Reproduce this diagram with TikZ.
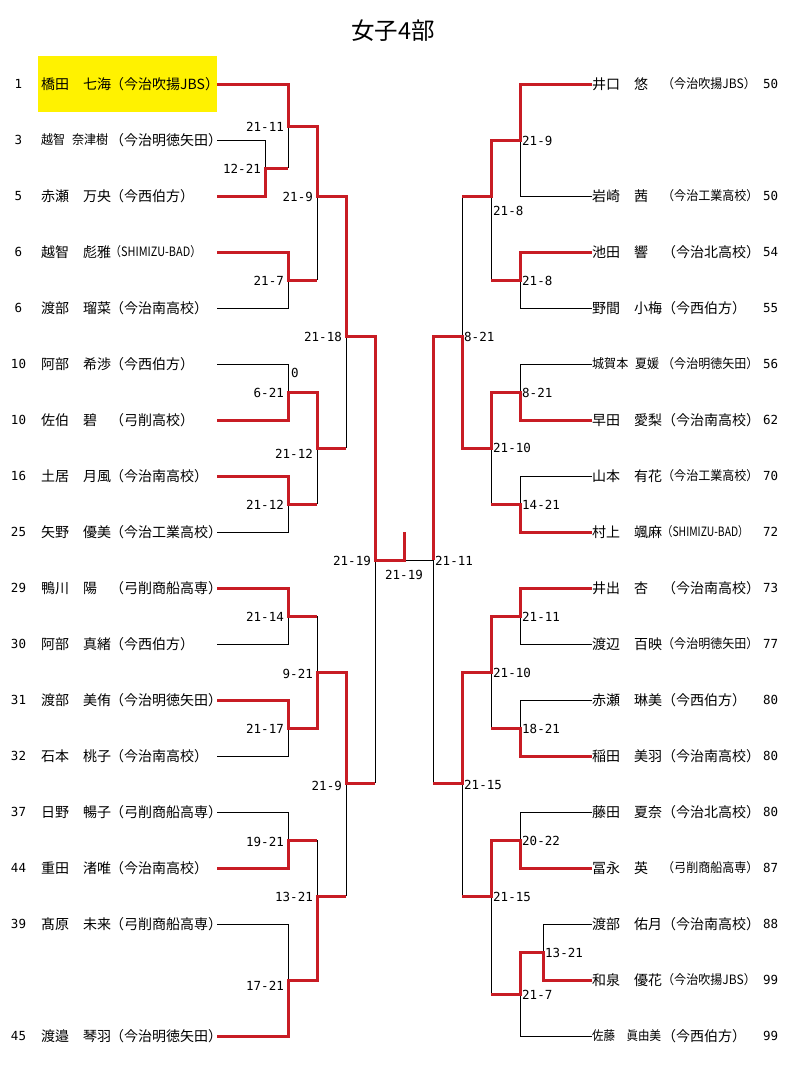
\documentclass[tikz,border=0pt]{standalone}
\usepackage{fontspec}
\setmainfont{Noto Sans CJK JP}
\newfontfamily\numfont{DejaVu Sans Mono}
\definecolor{winred}{RGB}{200,28,36}
\newcommand{\narrow}[2][0.86]{\scalebox{#1}[0.92]{#2}}
\tikzset{
  head/.style={font=\fontsize{23.5}{26}\selectfont},
  lname/.style={anchor=west,text width=173pt,inner xsep=3pt,inner ysep=0pt,minimum height=56pt,align=left,font=\fontsize{14}{16}\selectfont},
  rname/.style={anchor=west,inner sep=0pt,font=\fontsize{14}{16}\selectfont},
  school/.style={anchor=west,inner sep=0pt,font=\fontsize{14}{16}\selectfont},
  seed/.style={inner sep=0pt,font=\numfont\fontsize{12.5}{14}\selectfont},
  score/.style={inner sep=0pt,font=\numfont\fontsize{12.5}{14}\selectfont},
  win/.style={draw=winred,line width=3pt},
  lose/.style={draw=black,line width=1pt},
}
\begin{document}
\begin{tikzpicture}[x=1pt,y=-1pt]
\useasboundingbox (0,0) rectangle (786,1065);
\node[head] (title) at (393,31) {女子4部};

% left side
\path (18.5,84) node[seed] (ln0) {1} (38,84) node[lname,fill=yellow] (lp0) {橋田　七海} (110,84) node[school] (ls0) {（今治吹揚JBS）};
\path (18.5,140) node[seed] (ln1) {3} (38,140) node[lname] (lp1) {\narrow{越智\hspace{8pt}奈津樹}} (110,140) node[school] (ls1) {（今治明徳矢田）};
\path (18.5,196) node[seed] (ln2) {5} (38,196) node[lname] (lp2) {赤瀬　万央} (110,196) node[school] (ls2) {（今西伯方）};
\path (18.5,252) node[seed] (ln3) {6} (38,252) node[lname] (lp3) {越智　彪雅} (110,252) node[school] (ls3) {\narrow[0.78]{（SHIMIZU-BAD）}};
\path (18.5,308) node[seed] (ln4) {6} (38,308) node[lname] (lp4) {渡部　瑠菜} (110,308) node[school] (ls4) {（今治南高校）};
\path (18.5,364) node[seed] (ln5) {10} (38,364) node[lname] (lp5) {阿部　希渉} (110,364) node[school] (ls5) {（今西伯方）};
\path (18.5,420) node[seed] (ln6) {10} (38,420) node[lname] (lp6) {佐伯　碧} (110,420) node[school] (ls6) {（弓削高校）};
\path (18.5,476) node[seed] (ln7) {16} (38,476) node[lname] (lp7) {土居　月風} (110,476) node[school] (ls7) {（今治南高校）};
\path (18.5,532) node[seed] (ln8) {25} (38,532) node[lname] (lp8) {矢野　優美} (110,532) node[school] (ls8) {（今治工業高校）};
\path (18.5,588) node[seed] (ln9) {29} (38,588) node[lname] (lp9) {鴨川　陽} (110,588) node[school] (ls9) {（弓削商船高専）};
\path (18.5,644) node[seed] (ln10) {30} (38,644) node[lname] (lp10) {阿部　真緒} (110,644) node[school] (ls10) {（今西伯方）};
\path (18.5,700) node[seed] (ln11) {31} (38,700) node[lname] (lp11) {渡部　美侑} (110,700) node[school] (ls11) {（今治明徳矢田）};
\path (18.5,756) node[seed] (ln12) {32} (38,756) node[lname] (lp12) {石本　桃子} (110,756) node[school] (ls12) {（今治南高校）};
\path (18.5,812) node[seed] (ln13) {37} (38,812) node[lname] (lp13) {日野　暢子} (110,812) node[school] (ls13) {（弓削商船高専）};
\path (18.5,868) node[seed] (ln14) {44} (38,868) node[lname] (lp14) {重田　渚唯} (110,868) node[school] (ls14) {（今治南高校）};
\path (18.5,924) node[seed] (ln15) {39} (38,924) node[lname] (lp15) {髙原　未来} (110,924) node[school] (ls15) {（弓削商船高専）};
\path (18.5,1036) node[seed] (ln17) {45} (38,1036) node[lname] (lp17) {渡邉　琴羽} (110,1036) node[school] (ls17) {（今治明徳矢田）};

% right side
\path (592,84) node[rname] (rp0) {井口　悠} (662,84) node[school] (rs0) {\narrow{（今治吹揚JBS）}} (763,84) node[seed,anchor=west] (rn0) {50};
\path (592,196) node[rname] (rp2) {岩崎　茜} (662,196) node[school] (rs2) {\narrow{（今治工業高校）}} (763,196) node[seed,anchor=west] (rn2) {50};
\path (592,252) node[rname] (rp3) {池田　響} (662,252) node[school] (rs3) {（今治北高校）} (763,252) node[seed,anchor=west] (rn3) {54};
\path (592,308) node[rname] (rp4) {野間　小梅} (662,308) node[school] (rs4) {（今西伯方）} (763,308) node[seed,anchor=west] (rn4) {55};
\path (592,364) node[rname] (rp5) {\narrow{城賀本\hspace{8pt}夏媛}} (662,364) node[school] (rs5) {\narrow{（今治明徳矢田）}} (763,364) node[seed,anchor=west] (rn5) {56};
\path (592,420) node[rname] (rp6) {早田　愛梨} (662,420) node[school] (rs6) {（今治南高校）} (763,420) node[seed,anchor=west] (rn6) {62};
\path (592,476) node[rname] (rp7) {山本　有花} (662,476) node[school] (rs7) {\narrow{（今治工業高校）}} (763,476) node[seed,anchor=west] (rn7) {70};
\path (592,532) node[rname] (rp8) {村上　颯麻} (662,532) node[school] (rs8) {\narrow[0.74]{（SHIMIZU-BAD）}} (763,532) node[seed,anchor=west] (rn8) {72};
\path (592,588) node[rname] (rp9) {井出　杏} (662,588) node[school] (rs9) {（今治南高校）} (763,588) node[seed,anchor=west] (rn9) {73};
\path (592,644) node[rname] (rp10) {渡辺　百映} (662,644) node[school] (rs10) {\narrow{（今治明徳矢田）}} (763,644) node[seed,anchor=west] (rn10) {77};
\path (592,700) node[rname] (rp11) {赤瀬　琳美} (662,700) node[school] (rs11) {（今西伯方）} (763,700) node[seed,anchor=west] (rn11) {80};
\path (592,756) node[rname] (rp12) {稲田　美羽} (662,756) node[school] (rs12) {（今治南高校）} (763,756) node[seed,anchor=west] (rn12) {80};
\path (592,812) node[rname] (rp13) {藤田　夏奈} (662,812) node[school] (rs13) {（今治北高校）} (763,812) node[seed,anchor=west] (rn13) {80};
\path (592,868) node[rname] (rp14) {冨永　英} (662,868) node[school] (rs14) {\narrow{（弓削商船高専）}} (763,868) node[seed,anchor=west] (rn14) {87};
\path (592,924) node[rname] (rp15) {渡部　佑月} (662,924) node[school] (rs15) {（今治南高校）} (763,924) node[seed,anchor=west] (rn15) {88};
\path (592,980) node[rname] (rp16) {和泉　優花} (662,980) node[school] (rs16) {\narrow{（今治吹揚JBS）}} (763,980) node[seed,anchor=west] (rn16) {99};
\path (592,1036) node[rname] (rp17) {\narrow[0.82]{佐藤\hspace{14pt}眞由美}} (662,1036) node[school] (rs17) {（今西伯方）} (763,1036) node[seed,anchor=west] (rn17) {99};

% match points
\coordinate (A1) at (265,168); \coordinate (A2) at (288,126); \coordinate (A3) at (288,280);
\coordinate (A4) at (317,196); \coordinate (A5) at (288,392); \coordinate (A6) at (288,504);
\coordinate (A7) at (317,448); \coordinate (A8) at (346,336);
\coordinate (B1) at (288,616); \coordinate (B2) at (288,728); \coordinate (B3) at (317,672);
\coordinate (B4) at (288,840); \coordinate (B5) at (288,980); \coordinate (B6) at (317,896);
\coordinate (B7) at (346,783); \coordinate (LF) at (375,560);
\coordinate (C1) at (520,140); \coordinate (C2) at (520,280); \coordinate (C3) at (491,196);
\coordinate (C4) at (520,392); \coordinate (C5) at (520,504); \coordinate (C6) at (491,448);
\coordinate (C7) at (462,336);
\coordinate (D1) at (520,616); \coordinate (D2) at (520,728); \coordinate (D3) at (491,672);
\coordinate (D4) at (520,840); \coordinate (D5) at (543,952); \coordinate (D6) at (520,994);
\coordinate (D7) at (491,896); \coordinate (D8) at (462,783); \coordinate (RF) at (433,560);
\coordinate (fin) at (404,560); \coordinate (champ) at (404,532);

% lost
\draw[lose] (lp1.east) -| (A1) (A1 -| A2) -- (A2) (lp4.east) -| (A3) (A3 -| A4) -- (A4);
\draw[lose] (lp5.east) -| (A5) (lp8.east) -| (A6) (A6 -| A7) -- (A7) (A7 -| A8) -- (A8);
\draw[lose] (lp10.east) -| (B1) (B1 -| B3) -- (B3) (lp12.east) -| (B2);
\draw[lose] (lp13.east) -| (B4) (B4 -| B6) -- (B6) (lp15.east) -| (B5) (B6 -| B7) -- (B7);
\draw[lose] (B7 -| LF) -- (LF) (fin) -- (RF);
\draw[lose] (rp2.west) -| (C1) (rp4.west) -| (C2) (C2 -| C3) -- (C3) (C3 -| C7) -- (C7);
\draw[lose] (rp5.west) -| (C4) (rp7.west) -| (C5) (C5 -| C6) -- (C6);
\draw[lose] (rp10.west) -| (D1) (rp11.west) -| (D2) (D2 -| D3) -- (D3);
\draw[lose] (rp13.west) -| (D4) (rp15.west) -| (D5) (rp17.west) -| (D6);
\draw[lose] (D6 -| D7) -- (D7) (D7 -| D8) -- (D8) (D8 -| RF) -- (RF);

% won
\draw[win] (lp0.east) -| (A2) -| (A4) -| (A8) -| (LF) -- (fin) -- (champ);
\draw[win] (lp2.east) -| (A1) -- (A1 -| A2);
\draw[win] (lp3.east) -| (A3) -- (A3 -| A4);
\draw[win] (lp6.east) -| (A5) -| (A7) -- (A7 -| A8);
\draw[win] (lp7.east) -| (A6) -- (A6 -| A7);
\draw[win] (lp9.east) -| (B1) -- (B1 -| B3);
\draw[win] (lp11.east) -| (B2) -| (B3) -| (B7) -- (B7 -| LF);
\draw[win] (lp14.east) -| (B4) -- (B4 -| B6);
\draw[win] (lp17.east) -| (B5) -| (B6) -- (B6 -| B7);
\draw[win] (rp0.west) -| (C1) -| (C3) -- (C3 -| C7);
\draw[win] (rp3.west) -| (C2) -- (C2 -| C3);
\draw[win] (rp6.west) -| (C4) -| (C6) -| (C7) -| (RF);
\draw[win] (rp8.west) -| (C5) -- (C5 -| C6);
\draw[win] (rp9.west) -| (D1) -| (D3) -| (D8) -- (D8 -| RF);
\draw[win] (rp12.west) -| (D2) -- (D2 -| D3);
\draw[win] (rp14.west) -| (D4) -| (D7) -- (D7 -| D8);
\draw[win] (rp16.west) -| (D5) -| (D6) -- (D6 -| D7);

% scores
\node[score,anchor=east] (sA1) at (261,169) {12-21};
\node[score,anchor=east] (sA2) at (284,127) {21-11};
\node[score,anchor=east] (sA3) at (284,281) {21-7};
\node[score,anchor=east] (sA4) at (313,197) {21-9};
\node[score,anchor=west] (sA5a) at (291,373) {0};
\node[score,anchor=east] (sA5) at (284,393) {6-21};
\node[score,anchor=east] (sA6) at (284,505) {21-12};
\node[score,anchor=east] (sA7) at (313,454) {21-12};
\node[score,anchor=east] (sA8) at (342,337) {21-18};
\node[score,anchor=east] (sB1) at (284,617) {21-14};
\node[score,anchor=east] (sB2) at (284,729) {21-17};
\node[score,anchor=east] (sB3) at (313,674) {9-21};
\node[score,anchor=east] (sB4) at (284,842) {19-21};
\node[score,anchor=east] (sB5) at (284,986) {17-21};
\node[score,anchor=east] (sB6) at (313,897) {13-21};
\node[score,anchor=east] (sB7) at (342,786) {21-9};
\node[score,anchor=east] (sLF) at (371,561) {21-19};
\node[score] (sfin) at (404,575) {21-19};
\node[score,anchor=west] (sRF) at (435,561) {21-11};
\node[score,anchor=west] (sC1) at (522,141) {21-9};
\node[score,anchor=west] (sC2) at (522,281) {21-8};
\node[score,anchor=west] (sC3) at (493,211) {21-8};
\node[score,anchor=west] (sC4) at (522,393) {8-21};
\node[score,anchor=west] (sC5) at (522,505) {14-21};
\node[score,anchor=west] (sC6) at (493,448) {21-10};
\node[score,anchor=west] (sC7) at (464,337) {8-21};
\node[score,anchor=west] (sD1) at (522,617) {21-11};
\node[score,anchor=west] (sD2) at (522,729) {18-21};
\node[score,anchor=west] (sD3) at (493,673) {21-10};
\node[score,anchor=west] (sD4) at (522,841) {20-22};
\node[score,anchor=west] (sD5) at (545,953) {13-21};
\node[score,anchor=west] (sD6) at (522,995) {21-7};
\node[score,anchor=west] (sD7) at (493,897) {21-15};
\node[score,anchor=west] (sD8) at (464,785) {21-15};
\end{tikzpicture}
\end{document}
